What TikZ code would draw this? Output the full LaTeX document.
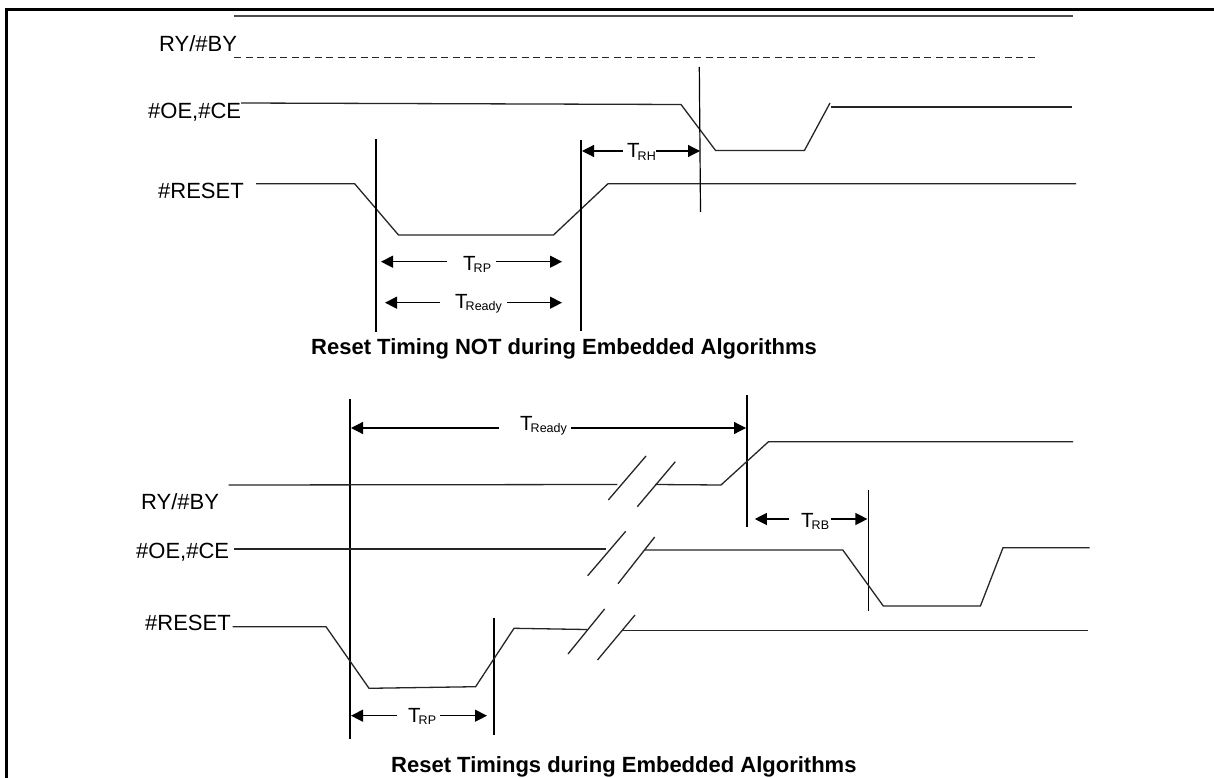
\documentclass[tikz,border=0pt]{standalone}
\usepackage{fontspec}
\setmainfont{Liberation Sans}
\usetikzlibrary{arrows.meta}
\newcommand\tsub[1]{{\fontsize{20.5}{21}\selectfont T}\kern-2pt\raisebox{-2pt}{\fontsize{12.5}{13}\selectfont #1}}
\begin{document}
\begin{tikzpicture}[x=1pt,y=-1pt,
  frame/.style={line width=2.2pt},
  wave/.style={line width=1.3pt, line join=miter, black!85},
  vline/.style={line width=1.2pt},
  dim/.style={line width=1.2pt, -{Triangle[length=12pt,width=12pt]}},
  sig/.style={font=\fontsize{22}{24}\selectfont, inner sep=0pt, anchor=base west},
  tlab/.style={inner sep=0pt, anchor=base west},
  ttl/.style={font=\fontsize{22}{24}\selectfont\bfseries, inner sep=0pt, anchor=base west}]
\fill[white] (0,0) rectangle (1214,778);
\useasboundingbox (0,0) rectangle (1214,778);
\draw[frame] (6.5,778) -- (6.5,9.5) -- (1214,9.5);

% ---------- top diagram ----------
\node[sig] (ry1) at (159,52) {RY/\#BY};
\node[sig] (oe1) at (148,119) {\#OE,\#CE};
\node[sig] (rs1) at (158,198) {\#RESET};

\draw[wave, black!70] (234,16) -- (1073,16);
\draw[wave, dash pattern=on 7pt off 4.5pt] (234,57.5) -- (1035,57.5);
\draw[wave] (241,103) -- (681,104.5) -- (715.6,150.5) -- (804.4,150.5) -- (830,103);
\draw[wave] (831,107) -- (1072,107);
\draw[wave] (256,183.7) -- (354.6,183.7) -- (398.5,235) -- (553.5,235) -- (608,183.7) -- (1076,183.7);

\coordinate (va1t) at (376,139); \coordinate (va1b) at (376,332);
\coordinate (vb1t) at (581,140); \coordinate (vb1b) at (581,331);
\coordinate (vc1t) at (699.3,67); \coordinate (vc1b) at (700.5,212);
\draw[vline] (va1t) -- (va1b);
\draw[vline] (vb1t) -- (vb1b);
\draw[vline] (vc1t) -- (vc1b);

\node[tlab] (trh) at (627,158) {\tsub{RH}};
\draw[dim] (623,151) -- (582,151);
\draw[dim] (656,151) -- (700,151);

\node[tlab] (trp1) at (463,270) {\tsub{RP}};
\draw[dim] (447,261.7) -- (381,261.7);
\draw[dim] (496,261.7) -- (562,261.7);

\node[tlab] (trd1) at (455,308) {\tsub{Ready}};
\draw[dim] (440,302.7) -- (385,302.7);
\draw[dim] (507,302.7) -- (562,302.7);

\node[ttl] (title1) at (311,354) {Reset Timing NOT during Embedded Algorithms};

% ---------- bottom diagram ----------
\node[sig] (ry2) at (141,509) {RY/\#BY};
\node[sig] (oe2) at (136,558) {\#OE,\#CE};
\node[sig] (rs2) at (145,630.7) {\#RESET};

\draw[vline] (350,399) -- (350,739);
\draw[vline] (747,395) -- (747,527);
\draw[vline] (868.6,490) -- (868.6,611);
\draw[vline] (494,617.7) -- (494,735);

\node[tlab] (trd2) at (520,430) {\tsub{Ready}};
\draw[dim] (499,428) -- (351,428);
\draw[dim] (571,428) -- (746,428);

% RY/#BY
\draw[wave] (228.5,485) -- (617.3,484.5);
\draw[wave] (608.3,500) -- (646,456);
\draw[wave] (637.3,506.7) -- (675.3,461.7);
\draw[wave] (655,484.5) -- (721,485) -- (768.5,441.7) -- (1073,441.7);

% #OE,#CE
\draw[wave] (234,549) -- (606,549);
\draw[wave] (587.7,575.7) -- (625.7,531.3);
\draw[wave] (618,583.7) -- (654.7,537);
\draw[wave] (644,550) -- (842.8,550) -- (883.3,606) -- (980.4,606) -- (1003,547.7) -- (1089.7,547.7);

\node[tlab] (trb) at (801,527) {\tsub{RB}};
\draw[dim] (789.4,519) -- (754.8,519);
\draw[dim] (831,519) -- (867.4,519);

% #RESET
\draw[wave] (232.5,626.7) -- (326,626.7) -- (369,688.3) -- (475.6,686.7) -- (514,628.3) -- (587,629.5);
\draw[wave] (568,654) -- (604.6,609);
\draw[wave] (597.5,660) -- (635,615);
\draw[wave] (621.7,630.7) -- (1087.7,630.7);

\node[tlab] (trp2) at (408,722) {\tsub{RP}};
\draw[dim] (397,715.7) -- (351,715.7);
\draw[dim] (440,715.7) -- (487,715.7);

\node[ttl] (title2) at (391,772) {Reset Timings during Embedded Algorithms};
\end{tikzpicture}
\end{document}
